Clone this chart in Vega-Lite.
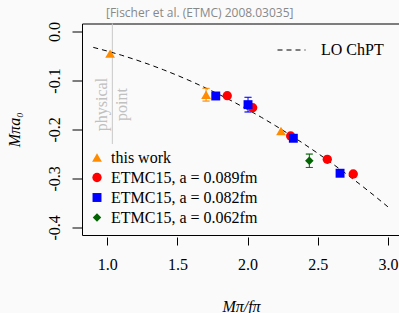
{
  "$schema": "https://vega.github.io/schema/vega-lite/v6.json",
  "width": 318,
  "height": 211.5,
  "autosize": {"type": "none"},
  "padding": {"left": 82, "top": 23.5, "right": 0, "bottom": 78},
  "background": "#fafafa",
  "title": {
    "text": "[Fischer et al. (ETMC) 2008.03035]",
    "anchor": "start",
    "frame": "group",
    "dx": 24,
    "offset": -7,
    "baseline": "alphabetic",
    "font": "Open Sans",
    "fontSize": 12,
    "fontWeight": "normal",
    "color": "#888888"
  },
  "datasets": {
    "points": [
      {"series": "this work", "x": 1.020, "y": -0.045},
      {"series": "this work", "x": 1.704, "y": -0.129},
      {"series": "this work", "x": 2.238, "y": -0.203},
      {"series": "ETMC15, a = 0.089fm", "x": 1.855, "y": -0.131},
      {"series": "ETMC15, a = 0.089fm", "x": 2.036, "y": -0.1555},
      {"series": "ETMC15, a = 0.089fm", "x": 2.307, "y": -0.2133},
      {"series": "ETMC15, a = 0.089fm", "x": 2.568, "y": -0.261},
      {"series": "ETMC15, a = 0.089fm", "x": 2.753, "y": -0.291},
      {"series": "ETMC15, a = 0.082fm", "x": 1.773, "y": -0.1316},
      {"series": "ETMC15, a = 0.082fm", "x": 2.003, "y": -0.1493},
      {"series": "ETMC15, a = 0.082fm", "x": 2.326, "y": -0.218},
      {"series": "ETMC15, a = 0.082fm", "x": 2.659, "y": -0.2895},
      {"series": "ETMC15, a = 0.062fm", "x": 2.440, "y": -0.264}
    ],
    "errors": [
      {"grp": "this work", "x": 1.704, "lo": -0.142, "hi": -0.116},
      {"grp": "ETMC15, a = 0.082fm", "x": 2.003, "lo": -0.1643, "hi": -0.1343},
      {"grp": "ETMC15, a = 0.062fm", "x": 2.440, "lo": -0.2777, "hi": -0.2503}
    ],
    "curve": [
      {"curve": "LO ChPT", "x": 0.9, "y": -0.03223},
      {"curve": "LO ChPT", "x": 1.0, "y": -0.03979},
      {"curve": "LO ChPT", "x": 1.1, "y": -0.04814},
      {"curve": "LO ChPT", "x": 1.2, "y": -0.05730},
      {"curve": "LO ChPT", "x": 1.3, "y": -0.06724},
      {"curve": "LO ChPT", "x": 1.4, "y": -0.07799},
      {"curve": "LO ChPT", "x": 1.5, "y": -0.08952},
      {"curve": "LO ChPT", "x": 1.6, "y": -0.10186},
      {"curve": "LO ChPT", "x": 1.7, "y": -0.11499},
      {"curve": "LO ChPT", "x": 1.8, "y": -0.12892},
      {"curve": "LO ChPT", "x": 1.9, "y": -0.14364},
      {"curve": "LO ChPT", "x": 2.0, "y": -0.15915},
      {"curve": "LO ChPT", "x": 2.1, "y": -0.17547},
      {"curve": "LO ChPT", "x": 2.2, "y": -0.19258},
      {"curve": "LO ChPT", "x": 2.3, "y": -0.21048},
      {"curve": "LO ChPT", "x": 2.4, "y": -0.22918},
      {"curve": "LO ChPT", "x": 2.5, "y": -0.24868},
      {"curve": "LO ChPT", "x": 2.6, "y": -0.26897},
      {"curve": "LO ChPT", "x": 2.7, "y": -0.29006},
      {"curve": "LO ChPT", "x": 2.8, "y": -0.31194},
      {"curve": "LO ChPT", "x": 2.9, "y": -0.33462},
      {"curve": "LO ChPT", "x": 3.0, "y": -0.35810}
    ],
    "phys": [
      {"x": 1.036, "ytop": 0.0166, "ybot": -0.2296}
    ],
    "labels": [
      {"x": 0.962, "y": -0.149, "label": "physical"},
      {"x": 1.105, "y": -0.149, "label": "point"}
    ]
  },
  "encoding": {
    "x": {
      "field": "x",
      "type": "quantitative",
      "scale": {"domain": [0.8197, 3.0862], "nice": false, "zero": false},
      "axis": {
        "title": "Mπ/fπ",
        "values": [1, 1.5, 2, 2.5, 3],
        "format": ".1f",
        "grid": false,
        "domain": false,
        "offset": 2,
        "tickSize": 8,
        "tickColor": "#000000",
        "labelFont": "Liberation Serif",
        "labelFontSize": 16,
        "labelColor": "#000000",
        "labelPadding": 11,
        "labelBaseline": "top",
        "titleFont": "Liberation Serif",
        "titleFontStyle": "italic",
        "titleFontWeight": "normal",
        "titleFontSize": 16,
        "titleColor": "#000000",
        "titlePadding": 26
      }
    },
    "y": {
      "field": "y",
      "type": "quantitative",
      "scale": {"domain": [-0.4157, 0.01655], "nice": false, "zero": false},
      "axis": {
        "title": "Mπa₀",
        "values": [0, -0.1, -0.2, -0.3, -0.4],
        "labelExpr": "datum.value == 0 ? '0.0' : '-' + format(-datum.value, '.1f')",
        "grid": false,
        "domain": false,
        "tickSize": 10,
        "tickColor": "#000000",
        "labelAngle": -90,
        "labelAlign": "center",
        "labelBaseline": "bottom",
        "labelPadding": 10,
        "labelFont": "Liberation Serif",
        "labelFontSize": 16,
        "labelColor": "#000000",
        "titleFont": "Liberation Serif",
        "titleFontStyle": "italic",
        "titleFontWeight": "normal",
        "titleFontSize": 16,
        "titleColor": "#000000",
        "titlePadding": 24
      }
    }
  },
  "layer": [
    {
      "data": {"name": "phys"},
      "mark": {"type": "rule", "color": "#c8c8c8", "strokeWidth": 1},
      "encoding": {
        "y": {"field": "ytop", "type": "quantitative"},
        "y2": {"field": "ybot"}
      }
    },
    {
      "data": {"name": "labels"},
      "mark": {"type": "text", "angle": -90, "align": "center", "baseline": "middle", "font": "Liberation Serif", "fontSize": 16, "color": "#c0c0c0"},
      "encoding": {
        "text": {"field": "label", "type": "nominal"}
      }
    },
    {
      "data": {"name": "curve"},
      "mark": {"type": "line", "color": "#000000", "strokeWidth": 1},
      "encoding": {
        "strokeDash": {
          "field": "curve",
          "type": "nominal",
          "scale": {"range": [[5, 4]]},
          "legend": {
            "orient": "none",
            "legendX": 195,
            "legendY": 12,
            "title": null,
            "padding": 0,
            "symbolType": "stroke",
            "symbolSize": 784,
            "symbolStrokeWidth": 1,
            "symbolStrokeColor": "#000000",
            "labelFont": "Liberation Serif",
            "labelFontSize": 16,
            "labelColor": "#000000",
            "labelOffset": 15
          }
        }
      }
    },
    {
      "data": {"name": "errors"},
      "mark": {"type": "rule", "strokeWidth": 1},
      "encoding": {
        "y": {"field": "lo", "type": "quantitative"},
        "y2": {"field": "hi"},
        "stroke": {
          "field": "grp",
          "type": "nominal",
          "scale": {
            "domain": ["this work", "ETMC15, a = 0.082fm", "ETMC15, a = 0.062fm"],
            "range": ["#ff8c00", "#0000ff", "#006400"]
          },
          "legend": null
        }
      }
    },
    {
      "data": {"name": "errors"},
      "mark": {"type": "tick", "orient": "horizontal", "size": 7, "thickness": 0.01, "filled": false, "strokeWidth": 1},
      "encoding": {
        "y": {"field": "lo", "type": "quantitative"},
        "stroke": {"field": "grp", "type": "nominal", "legend": null}
      }
    },
    {
      "data": {"name": "errors"},
      "mark": {"type": "tick", "orient": "horizontal", "size": 7, "thickness": 0.01, "filled": false, "strokeWidth": 1},
      "encoding": {
        "y": {"field": "hi", "type": "quantitative"},
        "stroke": {"field": "grp", "type": "nominal", "legend": null}
      }
    },
    {
      "data": {"name": "points"},
      "mark": {"type": "point", "filled": true, "opacity": 1},
      "encoding": {
        "color": {
          "field": "series",
          "type": "nominal",
          "scale": {
            "domain": ["this work", "ETMC15, a = 0.089fm", "ETMC15, a = 0.082fm", "ETMC15, a = 0.062fm"],
            "range": ["#ff8c00", "#ff0000", "#0000ff", "#006400"]
          },
          "legend": {
            "orient": "none",
            "legendX": 7,
            "legendY": 126,
            "title": null,
            "padding": 0,
            "rowPadding": 4,
            "labelFont": "Liberation Serif",
            "labelFontSize": 16,
            "labelColor": "#000000",
            "labelOffset": 6
          }
        },
        "shape": {
          "field": "series",
          "type": "nominal",
          "scale": {
            "domain": ["this work", "ETMC15, a = 0.089fm", "ETMC15, a = 0.082fm", "ETMC15, a = 0.062fm"],
            "range": ["triangle-up", "circle", "square", "diamond"]
          }
        },
        "size": {
          "field": "series",
          "type": "nominal",
          "scale": {
            "domain": ["this work", "ETMC15, a = 0.089fm", "ETMC15, a = 0.082fm", "ETMC15, a = 0.062fm"],
            "range": [95, 72, 58, 85]
          }
        }
      }
    }
  ],
  "config": {
    "view": {"stroke": "#000000", "strokeWidth": 1},
    "axis": {"tickWidth": 1}
  }
}
